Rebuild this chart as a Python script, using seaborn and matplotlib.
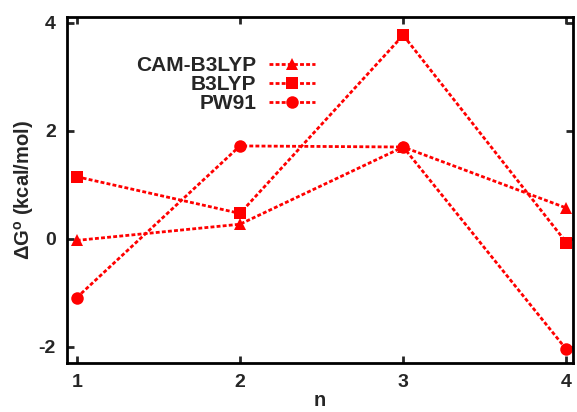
import pandas as pd
import matplotlib
matplotlib.use("Agg")
import matplotlib.pyplot as plt
import seaborn as sns

n_values = [1, 2, 3, 4]
cam_b3lyp = [-0.03, 0.27, 1.70, 0.57]
b3lyp = [1.15, 0.47, 3.77, -0.07]
pw91 = [-1.09, 1.72, 1.70, -2.05]

methods = ["CAM-B3LYP", "B3LYP", "PW91"]
markers = {"CAM-B3LYP": "^", "B3LYP": "s", "PW91": "o"}

df = pd.DataFrame({
    "n": n_values * 3,
    "dG": cam_b3lyp + b3lyp + pw91,
    "method": [m for m in methods for _ in n_values],
})

sns.set_theme(style="ticks")
plt.rcParams["font.family"] = ["Liberation Sans", "DejaVu Sans"]
plt.rcParams["font.weight"] = "bold"
plt.rcParams["mathtext.default"] = "regular"
plt.rcParams["axes.unicode_minus"] = False

fig = plt.figure(figsize=(5.77, 4.12), dpi=100)
ax = fig.add_axes([0.116, 0.119, 0.877, 0.840])

for m in methods:
    sub = df[df["method"] == m]
    sns.lineplot(data=sub, x="n", y="dG", ax=ax, color="#ff0000",
                 marker=markers[m], markersize=9,
                 markeredgewidth=0, linewidth=2.0, dashes=(1.4, 0.8),
                 label=m)

ax.set_xlim(0.94, 4.04)
ax.set_ylim(-2.3, 4.11)
ax.set_xticks(n_values)
ax.set_yticks([-2, 0, 2, 4])
ax.tick_params(direction="in", length=5, width=2, top=True, right=True,
               labelsize=14, pad=8)
for lab in ax.get_xticklabels() + ax.get_yticklabels():
    lab.set_fontweight("bold")
for s in ax.spines.values():
    s.set_linewidth(2)
    s.set_color("black")

ax.set_xlabel("n", fontsize=14.5, fontweight="bold", labelpad=0)
ax.set_ylabel(r"$\Delta$G$^o$ (kcal/mol)", fontsize=14.5, fontweight="bold", labelpad=2)

leg = ax.legend(loc="upper left", bbox_to_anchor=(0.1, 0.94), markerfirst=False,
                frameon=False, fontsize=15, handlelength=2.2, labelspacing=0.0,
                handletextpad=0.6)
for t in leg.get_texts():
    t.set_fontweight("bold")

fig.savefig("out.png", dpi=100)
